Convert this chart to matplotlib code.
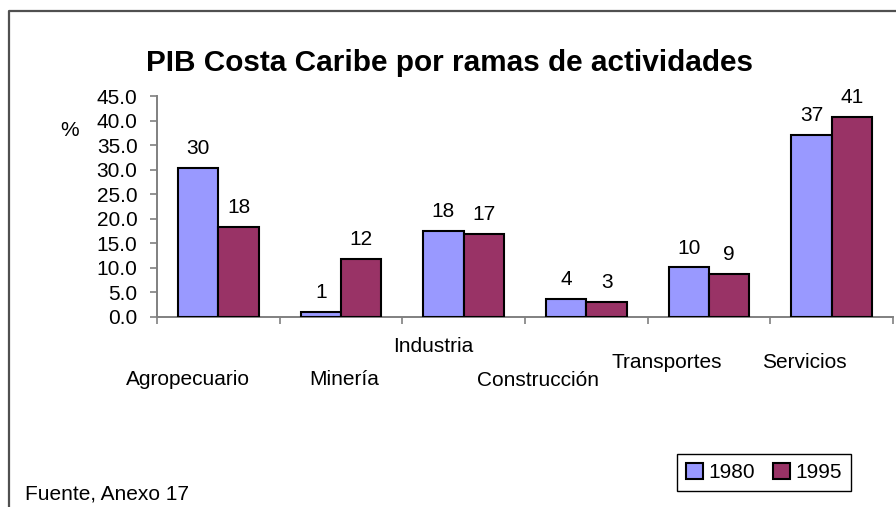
"""PIB Costa Caribe por ramas de actividades - grouped bar chart."""
import matplotlib
matplotlib.use('Agg')
import matplotlib.pyplot as plt
import matplotlib.ticker as mticker
from matplotlib.lines import Line2D

plt.rcParams['font.family'] = ['Liberation Sans', 'DejaVu Sans']

categories = ["Agropecuario", "Minería", "Industria", "Construcción", "Transportes", "Servicios"]
values_1980 = [30.4, 1.1, 17.6, 3.6, 10.1, 37.1]
values_1995 = [18.4, 11.8, 17.0, 3.1, 8.7, 40.8]
series_names = ["1980", "1995"]

# staggered category label placement (offset from category centre, baseline in axes coords)
label_dx = [-0.25, 0.026, -0.248, -0.396, -0.341, -0.224]
label_y = [-0.308, -0.308, -0.160, -0.311, -0.232, -0.232]

W, H = 896, 507
FS = 15
fig = plt.figure(figsize=(W / 100, H / 100), dpi=100)
ax = fig.add_axes([157 / W, 1 - 317 / H, (893 - 157) / W, (317 - 96) / H])

colors = ["#9999FF", "#993366"]
bw = 0.33
x = list(range(len(categories)))
for k, (vals, col, name) in enumerate(zip([values_1980, values_1995], colors, series_names)):
    xs = [i + (k - 0.5) * bw for i in x]
    ax.bar(xs, vals, width=bw, color=col, edgecolor="black", linewidth=1.5,
           label=name, zorder=3)
    for xi, v in zip(xs, vals):
        ax.annotate(f"{v:.0f}", (xi, v), xytext=(0, 10), textcoords="offset points",
                    ha="center", va="baseline", fontsize=FS)

ax.set_xlim(-0.5, len(categories) - 0.5)
ax.set_ylim(0, 45)
ax.yaxis.set_major_locator(mticker.MultipleLocator(5))
ax.yaxis.set_major_formatter(mticker.FormatStrFormatter("%.1f"))
ax.set_xticks([i - 0.5 for i in range(len(categories) + 1)])
ax.set_xticklabels([])
ax.tick_params(axis="y", length=5, width=1.2, color="#808080", pad=9, labelsize=FS)
ax.tick_params(axis="x", length=5, width=1.2, color="#808080")
for lbl in ax.get_yticklabels():
    lbl.set_va("center_baseline")
ax.spines[["top", "right"]].set_visible(False)
for s in ("left", "bottom"):
    ax.spines[s].set_color("#808080")
    ax.spines[s].set_linewidth(1.4)

for i, (name, dx, ly) in enumerate(zip(categories, label_dx, label_y)):
    ax.text(i + dx, ly, name, transform=ax.get_xaxis_transform(),
            ha="center", va="baseline", fontsize=FS)

fig.text(449 / W, 1 - 70.7 / H, "PIB Costa Caribe por ramas de actividades",
         ha="center", va="baseline", fontsize=21.4, fontweight="bold")
fig.text(70 / W, 1 - 130 / H, "%", ha="center", va="center", fontsize=FS)
fig.text(25 / W, 1 - 499 / H, "Fuente, Anexo 17", ha="left", va="baseline", fontsize=FS)

leg = fig.legend(loc="center", bbox_to_anchor=(764 / W, 1 - 472.5 / H), ncol=2,
                 fontsize=FS, frameon=True, fancybox=False, framealpha=1,
                 edgecolor="black", handlelength=0.8, handleheight=0.8,
                 handletextpad=0.25, columnspacing=0.9, borderpad=0.45)
leg.get_frame().set_linewidth(1.0)

# outer chart border (clipped at right and bottom)
bx, by = 9 / W, 1 - 11 / H
fig.add_artist(Line2D([bx, bx, 1.0], [0.0, by, by], transform=fig.transFigure,
                      color="#505050", linewidth=1.6))

fig.savefig("out.png", dpi=100)
